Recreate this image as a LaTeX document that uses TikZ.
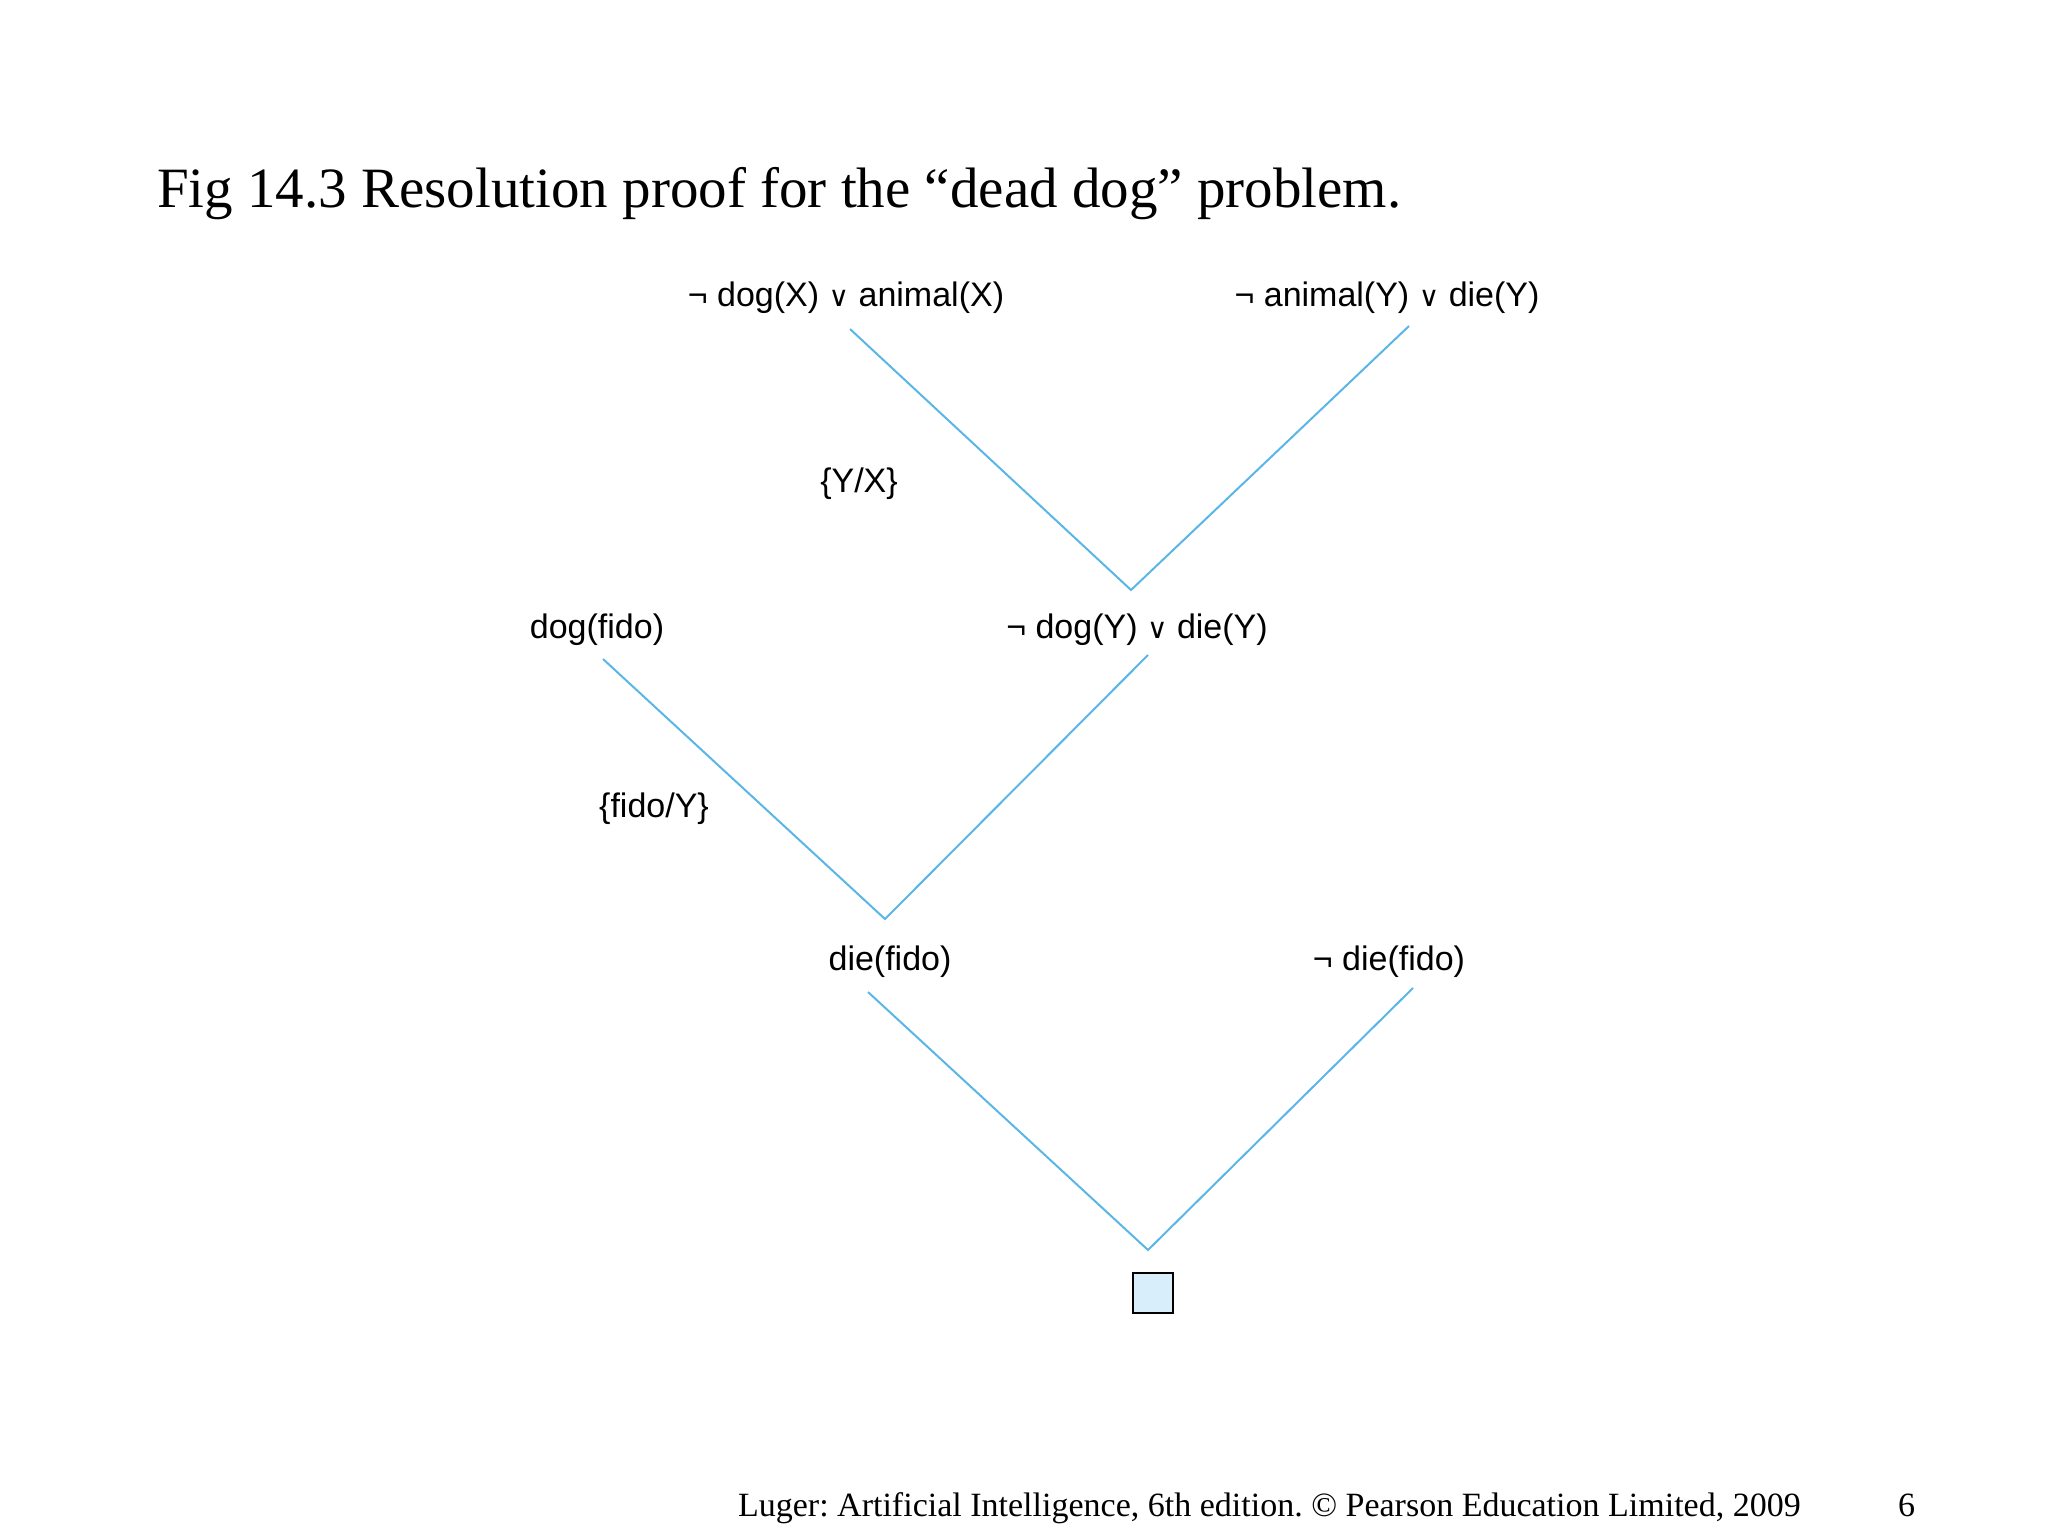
\documentclass[tikz,border=0pt]{standalone}
\usepackage{fontspec}
\setmainfont{Liberation Serif}
\setsansfont{Liberation Sans}
\newfontfamily\symfont{DejaVu Sans}
\definecolor{resblue}{HTML}{5AB6E6}
\definecolor{nilfill}{HTML}{D8EEFA}
\newcommand{\orsym}{{\symfont\fontsize{14}{16}\selectfont ∨}}
\frenchspacing

\begin{document}
\begin{tikzpicture}[
        x=0.5pt, y=-0.5pt, % one unit = one pixel of the slide
        clause/.style={font=\sffamily\fontsize{17}{20}\selectfont, inner sep=0pt},
        subst/.style={clause},
        res/.style={draw=resblue, line width=1pt},
    ]
        \useasboundingbox (0,0) rectangle (2048,1536);

        % Title and footer
        \node (title) [anchor=base west, font=\fontsize{28.5}{34}\selectfont] at (150,207)
            {Fig 14.3 Resolution proof for the “dead dog” problem.};
        \node (foot) [anchor=base west, font=\fontsize{17}{20}\selectfont] at (731,1516)
            {Luger: Artificial Intelligence, 6th edition. © Pearson Education Limited, 2009};
        \node (page) [anchor=base west, font=\fontsize{17}{20}\selectfont] at (1891,1516) {6};

        % Clauses
        \node (dogani) [clause] at (846,298) {¬ dog(X) \orsym\ animal(X)};
        \node (anidie) [clause] at (1387,298) {¬ animal(Y) \orsym\ die(Y)};
        \node (dogfido) [clause] at (597,630) {dog(fido)};
        \node (dogdie) [clause] at (1137,630) {¬ dog(Y) \orsym\ die(Y)};
        \node (diefido) [clause] at (890,962) {die(fido)};
        \node (notdie) [clause] at (1389,962) {¬ die(fido)};
        \node (nil) [draw, line width=1.2pt, fill=nilfill, minimum size=20pt, inner sep=0pt] at (1153,1293) {};

        % Substitutions
        \node (subYX) [subst] at (859,484) {\{Y/X\}};
        \node (subfido) [subst] at (654,809) {\{fido/Y\}};

        % Line ends below the clauses and the meeting points
        \coordinate (dogani-f) at (850,329);
        \coordinate (anidie-f) at (1409,326);
        \coordinate (dogfido-f) at (603,659);
        \coordinate (dogdie-f) at (1148,655);
        \coordinate (diefido-f) at (868,992);
        \coordinate (notdie-f) at (1413,988);
        \coordinate (meet1) at (1131,590);
        \coordinate (meet2) at (885,919);
        \coordinate (meet3) at (1148,1250);

        % Resolution steps
        \draw [res] (dogani-f) -- (meet1) -- (anidie-f);
        \draw [res] (dogfido-f) -- (meet2) -- (dogdie-f);
        \draw [res] (diefido-f) -- (meet3) -- (notdie-f);
    \end{tikzpicture}
\end{document}
